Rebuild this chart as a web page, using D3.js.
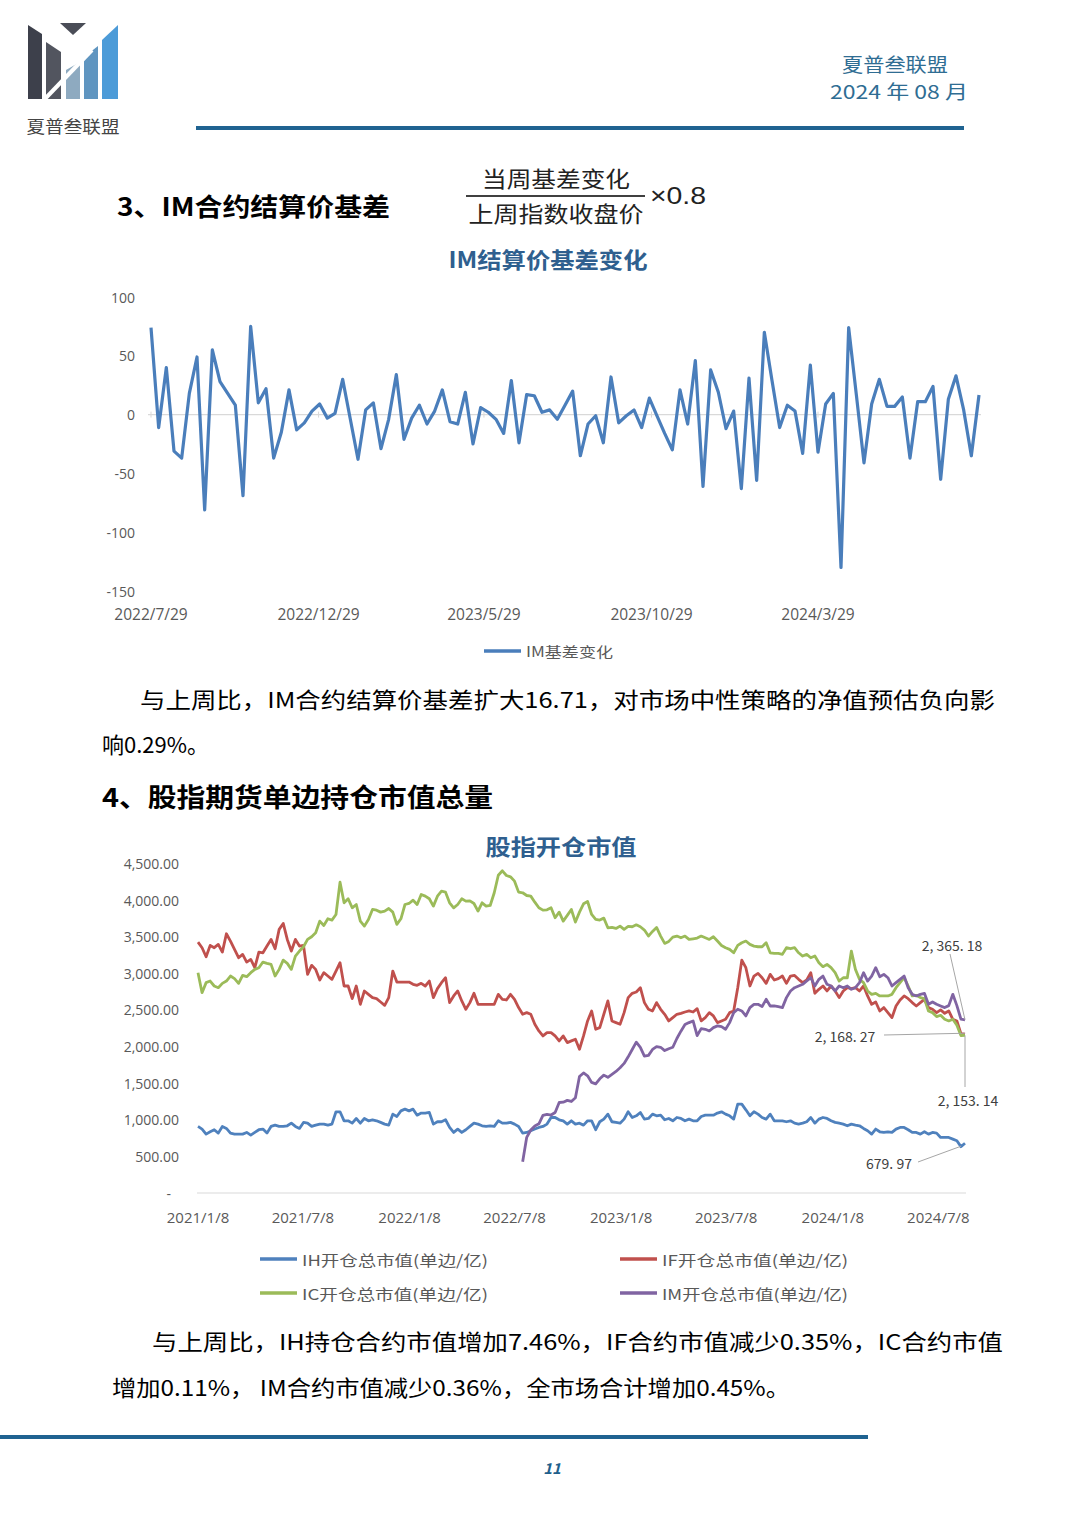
<!DOCTYPE html>
<html><head><meta charset="utf-8">
<script src="https://cdn.jsdelivr.net/npm/d3@7"></script>
<style>body{margin:0;background:#fff;} svg{display:block;}</style>
</head><body><svg id="page" width="1080" height="1528"></svg>
<script>
// ---------- DATA: chart 1 (IM basis change, weekly) ----------
const basisStart = "2022-07-29";
const basisValues = [74,-11,40,-31,-37,18,49,-81,55,28,18,8,-69,75,10,22,-37,-15,21,-13,-7,3,9,-3,1,30,-4,-38,4,10,-29,-4,34,-21,-3,8,-8,3,21,-6,-8,19,-25,6,2,-4,-16,29,-24,17,16,2,4,-4,8,20,-35,-8,-1,-24,32,-7,-1,4,-11,14,-1,-16,-30,21,-8,46,-61,38,19,-12,3,-63,31,-56,70,29,-11,8,3,-33,42,-32,9,18,-130,74,17,-41,9,30,7,7,15,-37,11,11,24,-55,13,33,4,-35,16.71];
const basisXTicks = ["2022-07-29","2022-12-29","2023-05-29","2023-10-29","2024-03-29"];
const basisYTicks = [100,50,0,-50,-100,-150];
const basisName = "IM基差变化";

// ---------- DATA: chart 2 (open-interest market value, weekly) ----------
const mvStart = "2021-01-08";
const imStart = "2022-07-22";
const ihValues = [909,873,804,836,864,818,909,882,818,804,804,804,827,791,827,864,873,818,909,927,909,909,918,954,909,882,964,954,909,927,941,941,927,941,1109,1109,986,986,954,1018,954,1018,986,1000,986,964,941,927,1077,1045,1122,1145,1122,1145,1063,1091,1091,1100,
 941,973,973,1000,895,827,873,827,864,909,954,941,918,909,918,909,986,954,954,964,941,909,818,827,850,873,895,909,941,1031,1031,1000,986,941,986,941,954,927,986,986,864,973,1009,1077,973,964,954,1009,1109,1031,1054,1100,1009,1018,1077,1054,1063,1000,1018,986,1031,1018,986,1009,986,986,
 1045,1063,1063,1063,1091,1109,1077,1054,1009,1213,1213,1136,1054,1109,1077,1031,1009,1077,986,986,986,973,986,954,941,954,973,1031,954,1009,1031,1018,986,964,954,941,918,941,927,918,882,850,804,873,836,827,836,827,873,895,895,864,827,827,804,836,804,827,818,759,759,759,736,714,633,679.97];
const ifValues = [3427,3350,3227,3382,3350,3395,3290,3540,3440,3327,3213,3259,3154,3190,3077,3290,3281,3372,3463,3336,3600,3681,3463,3304,3463,3372,3381,2986,3109,3054,2909,3009,2963,2918,3031,3145,2827,2827,2654,2827,2577,2759,2713,2668,2654,2609,2563,2668,3031,2881,2881,2881,2881,2850,2836,2863,2827,2895,
 2668,2791,2872,2940,2600,2691,2759,2623,2509,2600,2727,2577,2577,2577,2577,2577,2713,2645,2636,2713,2645,2532,2441,2463,2441,2304,2213,2145,2191,2191,2145,2077,2145,2054,2077,2100,1963,2145,2350,2486,2236,2259,2441,2623,2350,2327,2304,2463,2668,2727,2745,2804,2600,2509,2486,2600,2509,2441,2350,2395,2441,2454,2472,2486,2472,2518,
 2350,2395,2463,2418,2327,2350,2372,2463,2486,2804,3181,3077,2827,2963,3000,2940,2863,2986,2909,2927,2963,2863,2963,2972,2918,2873,2909,3009,2727,2782,2827,2759,2827,2759,2668,2759,2804,2791,2804,2759,2827,2691,2577,2609,2486,2532,2463,2395,2554,2636,2691,2654,2600,2554,2600,2645,2532,2509,2463,2500,2454,2486,2372,2350,2176,2168.27];
const icValues = [3009,2736,2873,2895,2827,2804,2863,2895,2963,2927,2863,2972,2954,3009,3054,3077,3154,3136,3122,2963,3054,3181,3136,3054,3236,3304,3363,3463,3500,3554,3713,3654,3745,3727,3804,4245,3963,4018,3895,3940,3713,3645,3736,3872,3863,3836,3850,3886,3836,3668,3745,3940,3954,3999,3940,4077,4054,4018,
 3918,4054,4122,4109,3963,3895,3940,4018,3986,3990,3954,3850,3963,3918,3927,4100,4340,4400,4336,4318,4259,4109,4100,4063,4054,3972,3895,3863,3868,3895,3759,3836,3713,3791,3872,3700,3836,3950,3981,3804,3736,3727,3754,3622,3627,3613,3645,3600,3640,3636,3663,3636,3591,3509,3572,3627,3509,3409,3436,3495,3509,3486,3509,3463,3472,3481,
 3509,3486,3463,3500,3441,3381,3350,3327,3281,3381,3418,3441,3395,3372,3363,3363,3418,3281,3272,3272,3259,3350,3336,3350,3281,3236,3259,3213,3236,3145,3091,3122,3077,3009,2895,2940,2940,3304,3054,2918,2873,2759,2713,2727,2691,2691,2691,2713,2804,2873,2940,2827,2691,2700,2668,2654,2486,2463,2409,2427,2372,2350,2372,2291,2151,2153.14];
const imValues = [427,760,860,915,945,1060,1075,1065,1100,1236,1240,1265,1250,1300,1590,1640,1600,1510,1490,1560,1610,1580,1620,1660,1710,1770,1860,1960,2060,1990,1870,1880,1960,2000,1990,1945,1970,1990,2110,2210,2300,2327,2350,2150,
 2245,2236,2213,2259,2282,2272,2236,2327,2463,2509,2486,2418,2532,2577,2577,2545,2645,2554,2554,2545,2532,2668,2759,2804,2827,2850,2895,2940,2827,2918,2963,2850,2827,2759,2827,2804,2827,2782,2804,2873,3009,2895,2963,3077,2954,2986,2940,2827,2873,2918,2963,2804,2713,2691,2713,2727,2577,2609,2577,2554,2532,2559,2713,2559,2374,2365.18];
const mvXTicks = ["2021-01-08","2021-07-08","2022-01-08","2022-07-08","2023-01-08","2023-07-08","2024-01-08","2024-07-08"];
const mvYTicks = [0,500,1000,1500,2000,2500,3000,3500,4000,4500];
const seriesNames = ["IH开仓总市值(单边/亿)","IF开仓总市值(单边/亿)","IC开仓总市值(单边/亿)","IM开仓总市值(单边/亿)"];
const seriesColors = ["#4f81bd","#c0504d","#9bbb59","#8064a2"];

// ---------- helpers ----------
const svg = d3.select("#page");
const CJK = "'Noto Sans CJK SC','Noto Sans',sans-serif";
const NUM = "'Open Sans','Liberation Sans',sans-serif";
const parse = d3.utcParse("%Y-%m-%d");
const fmtDate = d3.utcFormat("%Y/%-m/%-d");
function txt(x, y, s, o = {}) {
  const t = svg.append("text").attr("x", x).attr("y", y).text(s)
    .attr("dominant-baseline", "central")
    .attr("font-family", o.font || CJK)
    .attr("font-size", o.size || 16)
    .attr("fill", o.fill || "#000")
    .attr("text-anchor", o.anchor || "start");
  if (o.weight) t.attr("font-weight", o.weight);
  if (o.style) t.attr("font-style", o.style);
  if (o.w) t.attr("textLength", o.w).attr("lengthAdjust", "spacingAndGlyphs");
  return t;
}
const weekly = (start, vals) => vals.map((v, i) => ({ d: d3.utcDay.offset(parse(start), 7 * i), v }));

// ---------- header ----------
const logo = svg.append("g");
logo.append("polygon").attr("points", "28,25 42,34 42,99 28,99").attr("fill", "#3d404b");
logo.append("polygon").attr("points", "46,42 61,52 61,99 46,99").attr("fill", "#52555f");
logo.append("polygon").attr("points", "60,23 86,23 73,35").attr("fill", "#4a4d57");
logo.append("polygon").attr("points", "66,70 80,62 80,99 66,99").attr("fill", "#8eaac0");
logo.append("polygon").attr("points", "84,57 98,46 98,99 84,99").attr("fill", "#5f95c0");
logo.append("polygon").attr("points", "102,40 118,25 118,99 102,99").attr("fill", "#4c9bd8");
logo.append("line").attr("x1", 40).attr("y1", 104).attr("x2", 92).attr("y2", 50).attr("stroke", "#fff").attr("stroke-width", 4);
logo.append("polygon").attr("points", "64,58 70,63 64,67").attr("fill", "#fff");
txt(73, 125, "夏普叁联盟", { size: 17, fill: "#444", anchor: "middle", w: 93 });

txt(895, 63, "夏普叁联盟", { size: 19, fill: "#2f6d93", anchor: "middle", w: 106 });
txt(899, 90, "2024 年 08 月", { size: 19, fill: "#2f6d93", anchor: "middle", w: 138 });
svg.append("line").attr("x1", 196).attr("x2", 964).attr("y1", 128).attr("y2", 128).attr("stroke", "#1f6391").attr("stroke-width", 4);

// ---------- section 3 ----------
txt(117, 205, "3、IM合约结算价基差", { size: 25, weight: "bold", w: 273 });
txt(556, 177, "当周基差变化", { size: 22, anchor: "middle", w: 148, fill: "#222" });
svg.append("line").attr("x1", 466).attr("x2", 645).attr("y1", 196).attr("y2", 196).attr("stroke", "#000").attr("stroke-width", 1.5);
txt(556, 212, "上周指数收盘价", { size: 22, anchor: "middle", w: 175, fill: "#222" });
txt(650, 196, "×0.8", { size: 23, font: "'Liberation Sans',sans-serif", w: 56, fill: "#222" });

// ---------- chart 1 ----------
const b = weekly(basisStart, basisValues);
const x1 = d3.scaleUtc().domain([b[0].d, b[b.length - 1].d]).range([151, 979]);
const y1 = d3.scaleLinear().domain([-150, 100]).range([591, 297]);
txt(548, 258, "IM结算价基差变化", { size: 22, weight: "bold", fill: "#2f5f8f", anchor: "middle", w: 199 });
basisYTicks.forEach(v => txt(135, y1(v), String(v), { size: 14, font: NUM, fill: "#595959", anchor: "end" }));
svg.append("line").attr("x1", 148).attr("x2", 981).attr("y1", y1(0)).attr("y2", y1(0)).attr("stroke", "#d9d9d9").attr("stroke-width", 1.2);
basisXTicks.forEach(s => {
  const d = parse(s);
  svg.append("line").attr("x1", x1(d)).attr("x2", x1(d)).attr("y1", y1(0) - 3).attr("y2", y1(0) + 3).attr("stroke", "#d9d9d9");
  txt(x1(d), 614, fmtDate(d), { size: 15.5, font: NUM, fill: "#595959", anchor: "middle" });
});
svg.append("path").datum(b).attr("fill", "none").attr("stroke", "#4a7ebb").attr("stroke-width", 3.2)
  .attr("stroke-linejoin", "round")
  .attr("d", d3.line().x(d => x1(d.d)).y(d => y1(d.v)));
svg.append("line").attr("x1", 484).attr("x2", 521).attr("y1", 651).attr("y2", 651).attr("stroke", "#4a7ebb").attr("stroke-width", 3.5);
txt(526, 651, basisName, { size: 14, fill: "#595959", w: 87 });

// ---------- paragraph 1 ----------
txt(140, 698, "与上周比，IM合约结算价基差扩大16.71，对市场中性策略的净值预估负向影", { size: 22, w: 855 });
txt(102, 743, "响0.29%。", { size: 22 });

// ---------- section 4 ----------
txt(102, 795, "4、股指期货单边持仓市值总量", { size: 26, weight: "bold", w: 391 });

// ---------- chart 2 ----------
const series = [ihValues, ifValues, icValues, imValues].map((vals, k) => weekly(k === 3 ? imStart : mvStart, vals));
const x2 = d3.scaleUtc().domain([parse(mvStart), series[0][series[0].length - 1].d]).range([198, 965]);
const y2 = d3.scaleLinear().domain([0, 4500]).range([1193, 863.5]);
txt(561, 845, "股指开仓市值", { size: 22, weight: "bold", fill: "#2f5f8f", anchor: "middle", w: 151 });
mvYTicks.forEach(v => txt(v === 0 ? 171 : 179, y2(v), v === 0 ? "-" : d3.format(",.2f")(v), { size: 14, font: NUM, fill: "#595959", anchor: "end" }));
svg.append("line").attr("x1", 197).attr("x2", 966).attr("y1", y2(0)).attr("y2", y2(0)).attr("stroke", "#d9d9d9").attr("stroke-width", 1.2);
mvXTicks.forEach(s => txt(x2(parse(s)), 1217, fmtDate(parse(s)), { size: 15, font: NUM, fill: "#595959", anchor: "middle" }));
const line2 = d3.line().x(d => x2(d.d)).y(d => y2(d.v));
series.forEach((s, k) => svg.append("path").datum(s).attr("fill", "none").attr("stroke", seriesColors[k])
  .attr("stroke-width", 2.8).attr("stroke-linejoin", "round").attr("d", line2));

// end labels
const lab = v => d3.format(",.2f")(v).replace(/,/g, ", ").replace(".", ". ");
const last = s => s[s.length - 1];
const lc = "#a6a6a6";
function leader(x1_, y1_, x2_, y2_) { svg.append("line").attr("x1", x1_).attr("y1", y1_).attr("x2", x2_).attr("y2", y2_).attr("stroke", lc).attr("stroke-width", 1); }
const pIM = last(series[3]), pIF = last(series[1]), pIC = last(series[2]), pIH = last(series[0]);
txt(952, 945, lab(pIM.v), { size: 14, fill: "#404040", anchor: "middle" });
leader(950, 954, x2(pIM.d), y2(pIM.v));
txt(845, 1036, lab(pIF.v), { size: 14, fill: "#404040", anchor: "middle" });
leader(884, 1035, x2(pIF.d), y2(pIF.v) - 1);
txt(968, 1100, lab(pIC.v), { size: 14, fill: "#404040", anchor: "middle" });
leader(x2(pIC.d), y2(pIC.v), x2(pIC.d), 1087);
txt(889, 1163, lab(pIH.v), { size: 14, fill: "#404040", anchor: "middle" });
leader(918, 1162, x2(pIH.d) - 4, y2(pIH.v) + 3);

// legend
const legPos = [[260, 1259], [620, 1259], [260, 1293], [620, 1293]];
seriesNames.forEach((n, k) => {
  const [lx, ly] = legPos[k];
  svg.append("line").attr("x1", lx).attr("x2", lx + 37).attr("y1", ly).attr("y2", ly).attr("stroke", seriesColors[k]).attr("stroke-width", 3.5);
  txt(lx + 42, ly, n, { size: 15, fill: "#595959", w: 186 });
});

// ---------- paragraph 2 ----------
txt(152, 1340, "与上周比，IH持仓合约市值增加7.46%，IF合约市值减少0.35%，IC合约市值", { size: 22, w: 851 });
txt(112, 1386, "增加0.11%，  IM合约市值减少0.36%，全市场合计增加0.45%。", { size: 22, w: 678 });

// ---------- footer ----------
svg.append("line").attr("x1", 0).attr("x2", 868).attr("y1", 1437).attr("y2", 1437).attr("stroke", "#1f6391").attr("stroke-width", 4);
txt(552, 1467, "11", { size: 15, weight: "bold", style: "italic", fill: "#1f5f8b", anchor: "middle" });
</script></body></html>
